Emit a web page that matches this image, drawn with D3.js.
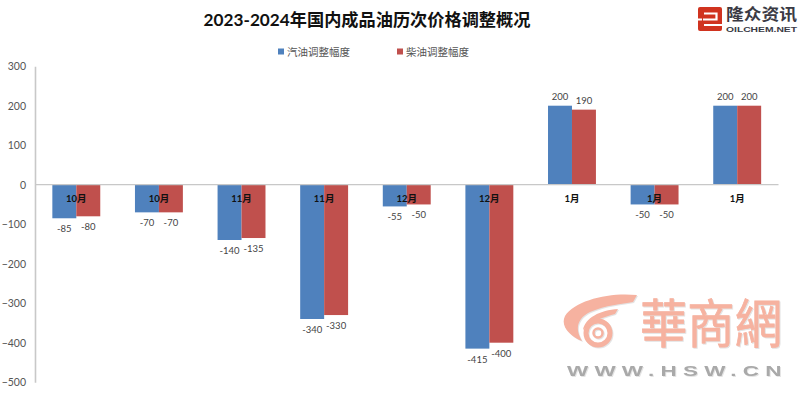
<!DOCTYPE html>
<html>
<head>
<meta charset="utf-8">
<script src="https://cdn.jsdelivr.net/npm/d3@7"></script>
<style>
html,body{margin:0;padding:0;background:#fff;overflow:hidden}
svg{display:block}
text{font-family:Lato,"Noto Sans CJK SC",sans-serif}
</style>
</head>
<body>
<div id="chart"></div>
<script>
const months = ["10月","10月","11月","11月","12月","12月","1月","1月","1月"];
const gasoline = [-85,-70,-140,-340,-55,-415,200,-50,200];
const diesel = [-80,-70,-135,-330,-50,-400,190,-50,200];
const seriesNames = ["汽油调整幅度","柴油调整幅度"];
const yTicks = [300,200,100,0,-100,-200,-300,-400,-500];

const width = 800, height = 395;
const colorGas = "#4f81bd", colorDie = "#c0504d";
const wmColor = "#f6b2a0";

const svg = d3.select("#chart").append("svg")
    .attr("width", width)
    .attr("height", height);

var x = d3.scaleBand()
    .domain(d3.range(months.length))
    .range([35, 778.5])
    .paddingInner(0.42)
    .paddingOuter(0.21);

var y = d3.scaleLinear()
    .domain([-500, 300])
    .range([382.2, 66.2]);

// title
svg.append("text")
    .attr("x", 367).attr("y", 26)
    .attr("text-anchor", "middle")
    .attr("font-size", 17.2)
    .attr("font-weight", "bold")
    .attr("fill", "#111")
    .text("2023-2024年国内成品油历次价格调整概况");

// legend
[[278, colorGas], [397, colorDie]].forEach((d, i) => {
    svg.append("rect").attr("x", d[0]).attr("y", 48.5).attr("width", 6).attr("height", 6).attr("fill", d[1]);
    svg.append("text")
        .attr("x", d[0] + 9).attr("y", 56)
        .attr("font-size", 10.5)
        .attr("fill", "#555")
        .text(seriesNames[i]);
});

// bars
const inner = d3.scaleBand().domain([0, 1]).range([0, x.bandwidth()]);

function drawBars(values, idx, color){
    svg.append("g").selectAll("rect")
        .data(values)
        .enter().append("rect")
        .attr("x", (d, i) => x(i) + inner(idx))
        .attr("y", d => d > 0 ? y(d) : y(0))
        .attr("width", inner.bandwidth())
        .attr("height", d => Math.abs(y(d) - y(0)))
        .attr("fill", color);

    svg.append("g").selectAll("text")
        .data(values)
        .enter().append("text")
        .attr("x", (d, i) => x(i) + inner(idx) + inner.bandwidth() / 2)
        .attr("y", d => d > 0 ? y(d) - 6 : y(d) + 14)
        .attr("text-anchor", "middle")
        .attr("font-size", 9.5)
        .attr("fill", "#444")
        .text(d => d);
}
drawBars(gasoline, 0, colorGas);
drawBars(diesel, 1, colorDie);

// axes
const yAxis = svg.append("g")
    .attr("transform", "translate(35,0)")
    .call(d3.axisLeft(y).tickValues(yTicks).tickSize(0).tickPadding(9).tickFormat(d3.format("d")));
yAxis.select(".domain").attr("stroke", "#c8c8c8").attr("stroke-width", 1.6);
yAxis.selectAll("text")
    .attr("font-size", 10.5)
    .attr("fill", "#555")
    .style("font-family", "Lato,sans-serif");

svg.append("line")
    .attr("x1", 35).attr("x2", 778.5)
    .attr("y1", y(0)).attr("y2", y(0))
    .attr("stroke", "#c8c8c8")
    .attr("stroke-width", 1.2);

// month labels sit just under the zero line
svg.append("g").selectAll("text")
    .data(months)
    .enter().append("text")
    .attr("x", (d, i) => x(i) + x.bandwidth() / 2)
    .attr("y", y(0) + 17)
    .attr("text-anchor", "middle")
    .attr("font-size", 9.5)
    .attr("font-weight", "bold")
    .attr("fill", "#111")
    .text(d => d);

// logo top right
const logo = svg.append("g");
logo.append("rect").attr("x", 698).attr("y", 7).attr("width", 24).attr("height", 24).attr("rx", 2).attr("fill", "#d0331f");
logo.append("path")
    .attr("d", "M704 13.5 H716.5 V19.5 H703 M698 19.5 H702 M704 25 H722")
    .attr("fill", "none").attr("stroke", "#fff").attr("stroke-width", 2.2);
logo.append("text")
    .attr("x", 726).attr("y", 20)
    .attr("font-size", 16).attr("font-weight", "bold").attr("fill", "#3a3a44")
    .attr("textLength", 71).attr("lengthAdjust", "spacingAndGlyphs")
    .text("隆众资讯");
logo.append("text")
    .attr("x", 726).attr("y", 32)
    .attr("font-size", 7.5).attr("font-weight", "bold").attr("fill", "#3a3a44")
    .attr("textLength", 71).attr("lengthAdjust", "spacingAndGlyphs")
    .style("font-family", '"Liberation Sans",sans-serif')
    .text("OILCHEM.NET");

// watermark
const wm = svg.append("g").style("filter", "drop-shadow(1px 1px 0.6px #e4e4e4)");
wm.append("path")
    .attr("d", "M637 295 C610 292 575 300 565 316 C560 326 570 336 582 341 C574 328 578 318 590 312 C606 305 622 304 633 302 Z")
    .attr("fill", wmColor);
wm.append("path")
    .attr("d", "M618 309 C600 310 585 318 583 330 C590 322 603 317 615 314 Z")
    .attr("fill", wmColor);
wm.append("circle").attr("cx", 598).attr("cy", 333).attr("r", 12).attr("fill", "none").attr("stroke", wmColor).attr("stroke-width", 5);
wm.append("circle").attr("cx", 598).attr("cy", 333).attr("r", 4.5).attr("fill", "none").attr("stroke", wmColor).attr("stroke-width", 2.5);
wm.append("text")
    .attr("x", 640).attr("y", 343)
    .attr("font-size", 52)
    .attr("fill", wmColor)
    .attr("stroke", wmColor)
    .attr("stroke-width", 0.8)
    .attr("textLength", 142).attr("lengthAdjust", "spacingAndGlyphs")
    .style("font-family", '"Noto Sans CJK TC",sans-serif')
    .text("華商網");
wm.append("text")
    .attr("transform", "scale(1.5,1)")
    .attr("x", 378).attr("y", 376)
    .attr("font-size", 15).attr("font-weight", "bold").attr("fill", "#a9a9a9")
    .attr("textLength", 143)
    .style("font-family", '"Liberation Sans",sans-serif')
    .text("WWW.HSW.CN");
</script>
</body>
</html>
